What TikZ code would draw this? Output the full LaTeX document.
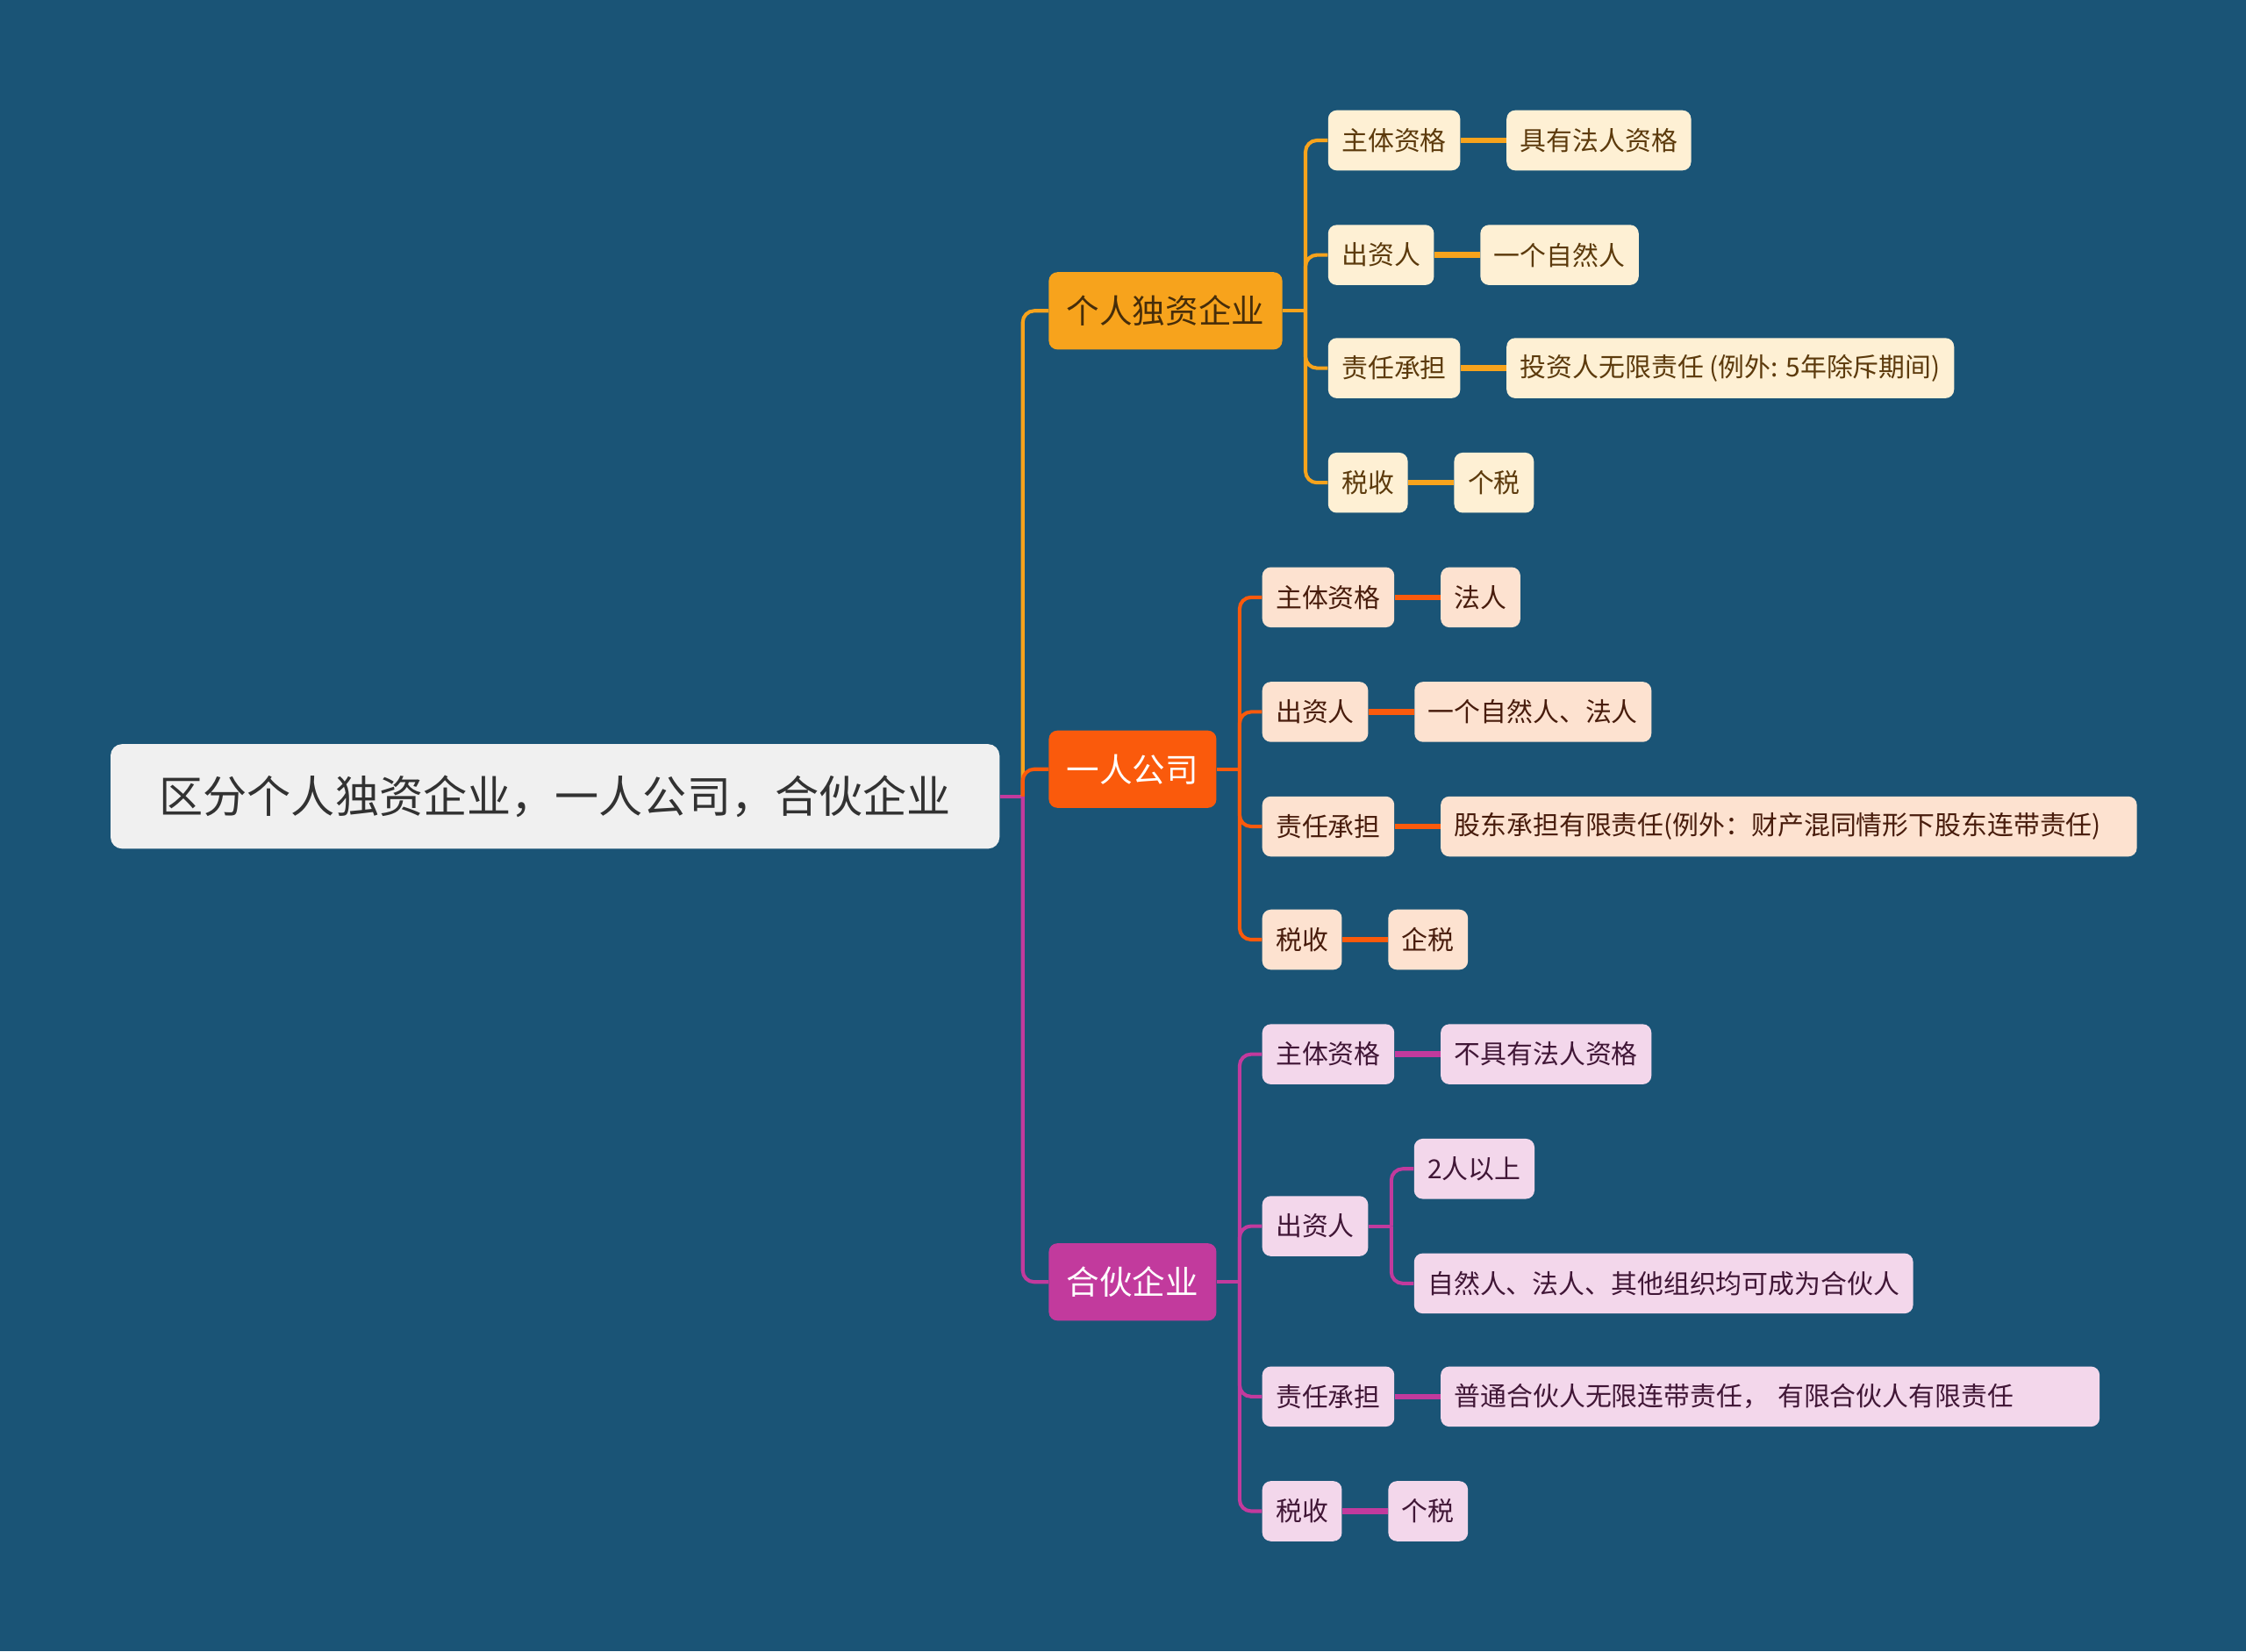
\documentclass[tikz,border=0pt]{standalone}
\usepackage{fontspec}
\setmainfont{Noto Sans CJK SC}
\usetikzlibrary{positioning}
\definecolor{mybg}{RGB}{26,84,118}
\definecolor{rootgray}{RGB}{240,240,240}
\definecolor{roottext}{RGB}{50,50,50}
\definecolor{myorange}{RGB}{247,163,28}
\definecolor{myred}{RGB}{250,90,12}
\definecolor{mypink}{RGB}{194,58,157}
\definecolor{lorange}{RGB}{254,240,212}
\definecolor{lred}{RGB}{253,226,208}
\definecolor{lpink}{RGB}{243,215,235}
\definecolor{torange}{RGB}{92,58,12}
\definecolor{tred}{RGB}{72,28,12}
\definecolor{tpink}{RGB}{64,22,54}
\tikzset{
  box/.style={rounded corners=6pt, inner xsep=9.5pt, inner ysep=0pt,
    minimum height=42pt, anchor=west, font=\fontsize{18.3}{20}\selectfont},
  topic/.style={box, inner xsep=12.5pt, minimum height=54pt,
    font=\fontsize{23}{26}\selectfont},
  link/.style={line width=2.5pt, rounded corners=8pt},
  leaf/.style={line width=4pt},
  nw/.style={},
  wideb/.style={text width=467pt, align=left},
  widec/.style={text width=441pt, align=left},
}

\begin{document}
\begin{tikzpicture}[x=1pt, y=-1pt]
  \fill[mybg] (0,0) rectangle (1568,1153);
  \useasboundingbox (0,0) rectangle (1568,1153);

  % root and the three topics
  \node[box, fill=rootgray, text=roottext, rounded corners=8pt, inner xsep=34pt,
    minimum height=73pt, font=\fontsize{30.7}{34}\selectfont] (root) at (77,556)
    {区分个人独资企业，一人公司，合伙企业};
  \node[topic, fill=myorange, text={rgb,255:red,70;green,45;blue,10}] (ka) at (732,217) {个人独资企业};
  \node[topic, fill=myred, text=white] (kb) at (732,537) {一人公司};
  \node[topic, fill=mypink, text=white] (kc) at (732,895) {合伙企业};

  \coordinate (r0) at ([xshift=16pt]root.east);
  \coordinate (a0) at ([xshift=16pt]ka.east);
  \coordinate (b0) at ([xshift=16pt]kb.east);
  \coordinate (c0) at ([xshift=16pt]kc.east);

  \draw[mypink, line width=2.5pt] (root.east) -- (r0);
  \draw[link, myorange] (r0) |- (ka.west);
  \draw[link, myred] (r0) |- (kb.west);
  \draw[link, mypink] (r0) |- (kc.west);
  \draw[myorange, line width=2.5pt] (ka.east) -- (a0);
  \draw[myred, line width=2.5pt] (kb.east) -- (b0);
  \draw[mypink, line width=2.5pt] (kc.east) -- (c0);

  % 个人独资企业
  \foreach \i/\y/\lab/\txt in {1/98/主体资格/具有法人资格, 2/178/出资人/一个自然人,
      3/257/责任承担/{投资人无限责任 (例外: 5年除斥期间)}, 4/337/税收/个税}{
    \node[box, fill=lorange, text=torange] (a\i) at (927,\y) {\lab};
    \node[box, fill=lorange, text=torange, right=32pt of a\i] (aa\i) {\txt};
    \draw[link, myorange] (a0) |- (a\i.west);
    \draw[leaf, myorange] (a\i.east) -- (aa\i.west);
  }

  % 一人公司
  \foreach \i/\y/\lab/\st/\txt in {1/417/主体资格/nw/法人, 2/497/出资人/nw/一个自然人、法人,
      3/577/责任承担/wideb/{股东承担有限责任(例外：财产混同情形下股东连带责任)}, 4/656/税收/nw/企税}{
    \node[box, fill=lred, text=tred] (b\i) at (881,\y) {\lab};
    \node[box, \st, fill=lred, text=tred, right=32pt of b\i] (bb\i) {\txt};
    \draw[link, myred] (b0) |- (b\i.west);
    \draw[leaf, myred] (b\i.east) -- (bb\i.west);
  }

  % 合伙企业
  \foreach \i/\y/\lab/\st/\txt in {1/736/主体资格/nw/不具有法人资格,
      3/975/责任承担/widec/{普通合伙人无限连带责任， 有限合伙人有限责任}, 4/1055/税收/nw/个税}{
    \node[box, fill=lpink, text=tpink] (c\i) at (881,\y) {\lab};
    \node[box, \st, fill=lpink, text=tpink, right=32pt of c\i] (cc\i) {\txt};
    \draw[link, mypink] (c0) |- (c\i.west);
    \draw[leaf, mypink] (c\i.east) -- (cc\i.west);
  }
  \node[box, fill=lpink, text=tpink] (c2) at (881,856) {出资人};
  \node[box, fill=lpink, text=tpink] (cc2a) at (987,816) {2人以上};
  \node[box, fill=lpink, text=tpink] (cc2b) at (987,896) {自然人、法人、其他组织均可成为合伙人};
  \coordinate (c20) at ([xshift=16pt]c2.east);
  \draw[link, mypink] (c0) |- (c2.west);
  \draw[mypink, line width=2.5pt] (c2.east) -- (c20);
  \draw[link, mypink] (c20) |- (cc2a.west);
  \draw[link, mypink] (c20) |- (cc2b.west);
\end{tikzpicture}
\end{document}
